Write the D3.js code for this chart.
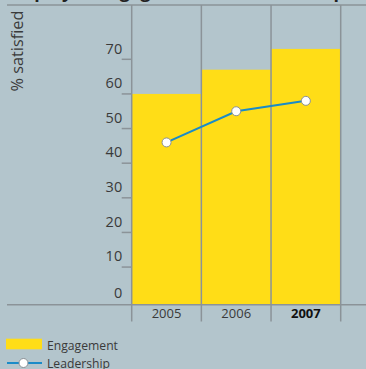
<!DOCTYPE html>
<html><head><meta charset="utf-8">
<script src="https://cdn.jsdelivr.net/npm/d3@7"></script>
<style>
html,body{margin:0;padding:0;background:#b3c5cc;}
svg{display:block;}
text{font-family:"Open Sans","Noto Sans",sans-serif;}
</style></head>
<body>
<script>
const years = ["2005", "2006", "2007"];
const engagement = [60, 67, 73];
const leadership = [46, 55, 58];
const yTicks = [0, 10, 20, 30, 40, 50, 60, 70];
const titleText = "Employee engagement and leadership";
const yLabel = "% satisfied";
const seriesNames = ["Engagement", "Leadership"];

const W = 366, H = 369;
const bg = "#b3c5cc", gridC = "#8b9398", yellow = "#ffdd17", blue = "#1a8bc8", textC = "#3a3a3a";

const svg = d3.select("body").append("svg").attr("width", W).attr("height", H);
svg.append("rect").attr("width", W).attr("height", H).attr("fill", bg);

function fitWidth(sel, target) {
  const fs = parseFloat(sel.attr("font-size"));
  const w = sel.node().getComputedTextLength();
  if (w > 0) sel.attr("font-size", (fs * target / w).toFixed(2));
  return sel;
}

const x = d3.scaleBand().domain(years).range([131.7, 340.7]).padding(0);
const y = d3.scaleLinear().domain([0, 70]).range([301.7, 59.3]);
const baseY = y(0) + 3;
const topY = 5;

// cut-off title (only descenders visible, as in the reference)
const title = svg.append("text").attr("x", 7).attr("y", -2.3)
  .attr("font-size", 17).attr("font-weight", "bold").attr("fill", "#222")
  .text(titleText);
fitWidth(title, 338);

// top line
svg.append("line").attr("x1", 7).attr("x2", W).attr("y1", topY).attr("y2", topY)
  .attr("stroke", gridC).attr("stroke-width", 1.5);

// bars
svg.selectAll("rect.bar").data(years).enter().append("rect").attr("class", "bar")
  .attr("x", d => x(d)).attr("width", x.bandwidth())
  .attr("y", (d, i) => y(engagement[i]))
  .attr("height", (d, i) => baseY - y(engagement[i]))
  .attr("fill", yellow);

// vertical grid lines
const vx = years.map(d => x(d)).concat([x(years[years.length - 1]) + x.bandwidth()]);
svg.selectAll("line.v").data(vx).enter().append("line").attr("class", "v")
  .attr("x1", d => d).attr("x2", d => d).attr("y1", topY).attr("y2", 321.5)
  .attr("stroke", gridC).attr("stroke-width", 1.5);

// baseline
svg.append("line").attr("x1", 7).attr("x2", W).attr("y1", baseY).attr("y2", baseY)
  .attr("stroke", gridC).attr("stroke-width", 1.5);

// y ticks
const ax = x.range()[0];
svg.selectAll("line.t").data(yTicks.filter(d => d > 0)).enter().append("line").attr("class", "t")
  .attr("x1", ax - 10).attr("x2", ax).attr("y1", d => y(d)).attr("y2", d => y(d))
  .attr("stroke", gridC).attr("stroke-width", 1.5);
svg.selectAll("text.yt").data(yTicks).enter().append("text").attr("class", "yt")
  .attr("x", ax - 9.5).attr("y", d => y(d) - (d === 0 ? 3.5 : 5.8))
  .attr("text-anchor", "end").attr("font-size", 14.5).attr("fill", textC)
  .text(d => d);

// y label
const yl = svg.append("text").attr("transform", "translate(23,51) rotate(-90)")
  .attr("text-anchor", "middle").attr("font-size", 16).attr("fill", textC)
  .text(yLabel);
fitWidth(yl, 81);

// x labels
svg.selectAll("text.xt").data(years).enter().append("text").attr("class", "xt")
  .attr("x", d => x(d) + x.bandwidth() / 2).attr("y", 318)
  .attr("text-anchor", "middle").attr("font-size", 13)
  .attr("font-weight", (d, i) => i === years.length - 1 ? "bold" : "normal")
  .attr("fill", (d, i) => i === years.length - 1 ? "#111" : textC)
  .text(d => d);

// leadership line
const line = d3.line().x((d, i) => x(years[i]) + x.bandwidth() / 2).y(d => y(d));
svg.append("path").datum(leadership).attr("d", line)
  .attr("fill", "none").attr("stroke", blue).attr("stroke-width", 2);
svg.selectAll("circle.p").data(leadership).enter().append("circle").attr("class", "p")
  .attr("cx", (d, i) => x(years[i]) + x.bandwidth() / 2).attr("cy", d => y(d))
  .attr("r", 4.5).attr("fill", "#fff").attr("stroke", "#8a9096").attr("stroke-width", 1);

// legend
svg.append("rect").attr("x", 6).attr("y", 338.7).attr("width", 36).attr("height", 10.6).attr("fill", yellow);
const l1 = svg.append("text").attr("x", 47).attr("y", 349.8).attr("font-size", 12.5).attr("fill", textC).text(seriesNames[0]);
fitWidth(l1, 71);
svg.append("line").attr("x1", 7).attr("x2", 42).attr("y1", 363).attr("y2", 363)
  .attr("stroke", blue).attr("stroke-width", 2);
svg.append("circle").attr("cx", 23.5).attr("cy", 363).attr("r", 4.5)
  .attr("fill", "#fff").attr("stroke", "#8a9096").attr("stroke-width", 1);
const l2 = svg.append("text").attr("x", 47).attr("y", 367.6).attr("font-size", 12.5).attr("fill", textC).text(seriesNames[1]);
l2.attr("font-size", l1.attr("font-size"));
</script>
</body></html>
